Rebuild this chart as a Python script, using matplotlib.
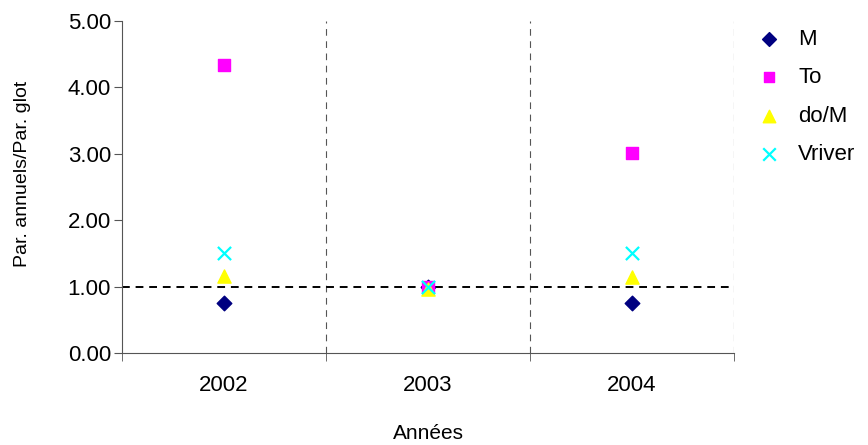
import matplotlib.pyplot as plt
import numpy as np

plt.rcParams['font.family'] = ['Liberation Sans', 'DejaVu Sans']

years = ["2002", "2003", "2004"]
m_vals = [0.75, 1.00, 0.75]
to_vals = [4.34, 1.00, 3.01]
dom_vals = [1.16, 0.96, 1.14]
vriver_vals = [1.51, 1.00, 1.51]

x = np.arange(len(years))

fig = plt.figure(figsize=(8.68, 4.45), dpi=100)
ax = fig.add_axes([0.1406, 0.2067, 0.705, 0.7461])

ax.scatter(x, m_vals, marker="D", s=55, color="#000080", label="M", zorder=3)
ax.scatter(x, to_vals, marker="s", s=65, color="#FF00FF", label="To", zorder=3)
ax.scatter(x, dom_vals, marker="^", s=90, color="#FFFF00", label="do/M", zorder=3)
ax.scatter(x, vriver_vals, marker="x", s=90, color="#00FFFF", linewidths=1.6,
           label="Vriver", zorder=3)

ax.axhline(1.0, color="black", linestyle=(0, (4, 3)), linewidth=1.4, zorder=2)
for b in [0.5, 1.5, 2.5]:
    ax.axvline(b, color="#555555", linestyle=(0, (6, 5)), linewidth=0.8, zorder=1)

ax.set_xlim(-0.5, 2.5)
ax.set_ylim(0, 5)
yt = np.arange(0, 5.01, 1.0)
ax.set_yticks(yt)
ax.set_yticklabels([f"{v:.2f}" for v in yt], fontsize=16)
ax.set_xticks(x)
ax.set_xticklabels(years, fontsize=16)
ax.tick_params(axis="x", length=0, pad=16)
ax.set_xticks([-0.5, 0.5, 1.5, 2.5], minor=True)
ax.tick_params(axis="x", which="minor", length=6, direction="out", color="#555555")
ax.tick_params(axis="y", length=6, direction="out", color="#555555", pad=2)

for s in ["top", "right"]:
    ax.spines[s].set_visible(False)
ax.spines["left"].set_color("#555555")
ax.spines["bottom"].set_color("#555555")

ax.set_ylabel("Par. annuels/Par. glot", fontsize=14)
ax.yaxis.set_label_coords(-0.148, 0.54)
ax.set_xlabel("Années", fontsize=15, labelpad=20)

fig.legend(loc="upper left", bbox_to_anchor=(0.866, 0.955), frameon=False,
           fontsize=16, labelspacing=0.78, handlelength=0.8, handletextpad=0.9,
           scatterpoints=1, markerscale=0.95, borderaxespad=0)

fig.savefig("out.png", dpi=100)
